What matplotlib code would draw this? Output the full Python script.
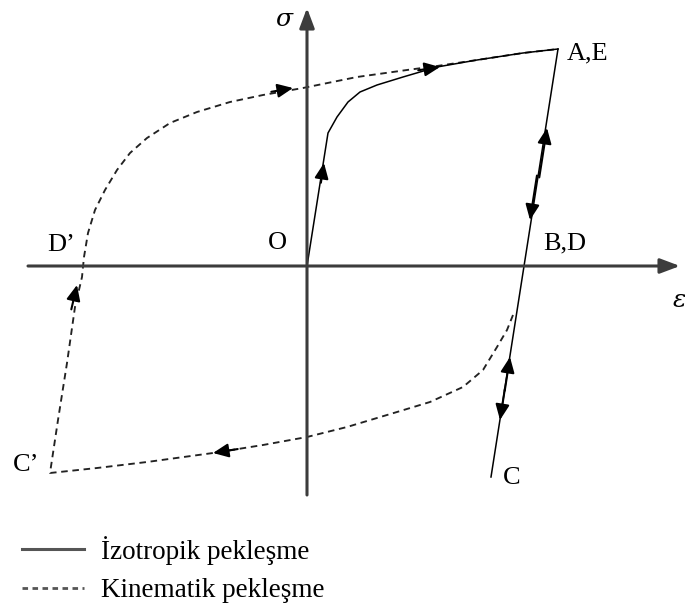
import numpy as np
import matplotlib.pyplot as plt
from matplotlib.lines import Line2D

plt.rcParams['font.family'] = ['Liberation Serif', 'DejaVu Serif']

# --- values (arbitrary units, origin at O) ---
# isotropic hardening: loading O -> A
iso_eps = [0.00, 0.21, 0.30, 0.41, 0.53, 0.70, 0.96, 1.30, 1.70, 2.16, 2.51]
iso_sig = [0.00, 1.33, 1.49, 1.64, 1.74, 1.81, 1.89, 1.99, 2.06, 2.13, 2.17]

# elastic unloading A -> B -> C
unload_eps = [2.51, 1.84]
unload_sig = [2.17, -2.11]

# kinematic hardening: reverse yield -> C' -> D' -> E
kin_eps = [2.06, 2.00, 1.90, 1.76, 1.56, 1.23, 0.90, 0.40, 0.00, -0.44, -0.94,
           -1.60, -2.10, -2.57,
           -2.49, -2.40, -2.32, -2.25, -2.23, -2.19, -2.12, -2.02, -1.90, -1.77,
           -1.60, -1.37, -1.10, -0.77, -0.44, -0.04, 0.50, 1.00, 1.30, 1.70,
           2.16, 2.51]
kin_sig = [-0.49, -0.64, -0.81, -1.04, -1.21, -1.36, -1.46, -1.61, -1.71, -1.79,
           -1.87, -1.96, -2.02, -2.07,
           -1.54, -0.97, -0.41, -0.11, 0.09, 0.33, 0.56, 0.76, 0.96, 1.13,
           1.28, 1.43, 1.54, 1.64, 1.71, 1.78, 1.89, 1.96, 2.00, 2.06,
           2.13, 2.17]

# arrow tips on the paths: (path, eps, sig, against path direction?, shaft length)
arrow_tips = [
    ("iso", 0.17, 1.03, False, 0.20),
    ("kin", 1.33, 1.99, False, 0.22),
    ("kin", -0.14, 1.78, False, 0.22),
    ("kin", -0.94, -1.87, False, 0.25),
    ("kin", -2.30, -0.19, False, 0.25),
    ("unload", 2.40, 1.38, True, 0.50),
    ("unload", 2.23, 0.46, False, 0.45),
    ("unload", 2.03, -0.91, True, 0.34),
    ("unload", 1.93, -1.54, False, 0.32),
]

point_labels = ["A,E", "B,D", "C", "O", "D\u2019", "C\u2019"]
label_eps = [2.60, 2.36, 1.96, -0.30, -2.60, -2.94]
label_sig = [2.13, 0.23, -2.12, 0.23, 0.21, -1.99]
label_ha = ["left", "left", "left", "center", "left", "left"]

legend_labels = ["\u0130zotropik pekle\u015fme", "Kinematik pekle\u015fme"]


def path_arrow(ax, xs, ys, tx, ty, reverse=False, length=0.2):
    xs, ys = np.asarray(xs), np.asarray(ys)
    best = None
    for i in range(len(xs) - 1):
        p0 = np.array([xs[i], ys[i]])
        v = np.array([xs[i + 1], ys[i + 1]]) - p0
        t = np.clip(np.dot([tx, ty] - p0, v) / np.dot(v, v), 0, 1)
        d = np.hypot(*(p0 + t * v - [tx, ty]))
        if best is None or d < best[0]:
            best = (d, v)
    v = best[1] / np.hypot(*best[1])
    if reverse:
        v = -v
    tail = (tx - v[0] * length, ty - v[1] * length)
    ax.annotate("", xy=(tx, ty), xytext=tail,
                arrowprops=dict(arrowstyle="-|>,head_length=0.85,head_width=0.38",
                                mutation_scale=11, lw=1.5, color="black",
                                shrinkA=0, shrinkB=0))


fig = plt.figure(figsize=(6.85, 6.07), dpi=100)
ax = fig.add_axes([0, 0, 1, 1])
ax.set_xlim(-3.07, 3.78)
ax.set_ylim(-3.41, 2.66)
ax.axis("off")

# coordinate axes
axis_kw = dict(arrowstyle="-|>,head_length=1.2,head_width=0.45",
               mutation_scale=10, lw=2.2, color="#3c3c3c", shrinkA=0, shrinkB=0)
ax.annotate("", xy=(3.73, 0), xytext=(-2.79, 0), arrowprops=axis_kw)
ax.annotate("", xy=(0, 2.58), xytext=(0, -2.29), arrowprops=axis_kw)
ax.text(-0.23, 2.47, "\u03c3", fontsize=18, style="italic",
        family="DejaVu Serif", ha="center", va="center")
ax.text(3.655, -0.34, "\u03b5", fontsize=18, style="italic",
        family="DejaVu Serif", ha="left", va="center")

# curves
ax.plot(kin_eps, kin_sig, color="#222222", lw=1.35, ls=(0, (3.5, 2.5)))
ax.plot(iso_eps, iso_sig, color="black", lw=1.1)
ax.plot(unload_eps, unload_sig, color="black", lw=1.1)

paths = {"iso": (iso_eps, iso_sig), "kin": (kin_eps, kin_sig),
         "unload": (unload_eps, unload_sig)}
for name, tx, ty, rev, ln in arrow_tips:
    path_arrow(ax, *paths[name], tx, ty, reverse=rev, length=ln)

for lab, x, y, ha in zip(point_labels, label_eps, label_sig, label_ha):
    ax.text(x, y, lab, fontsize=19, ha=ha, va="center")

# legend
handles = [Line2D([], [], color="#555555", lw=2.2),
           Line2D([], [], color="#555555", lw=2.0, ls=(0, (2, 1.6)))]
fig.legend(handles, legend_labels, loc="upper left",
           bbox_to_anchor=(22 / 685, 1 - 536 / 607), frameon=False,
           prop={"family": "Liberation Serif", "size": 19.5},
           handlelength=2.3, handletextpad=0.6, labelspacing=0.5,
           borderpad=0, borderaxespad=0)

fig.savefig("out.png", dpi=100)
